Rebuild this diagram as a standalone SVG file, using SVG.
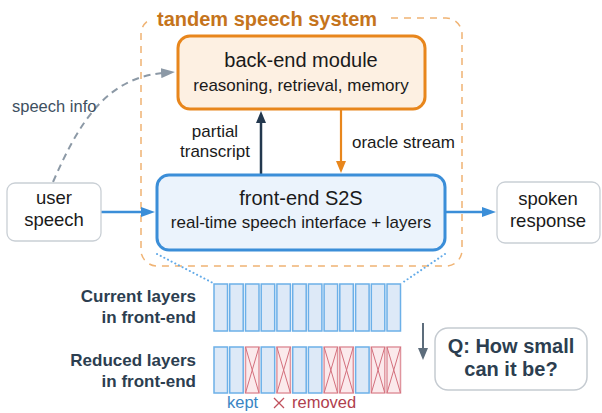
<svg xmlns="http://www.w3.org/2000/svg" width="602" height="413" viewBox="0 0 602 413">
<style>
text{font-family:"Liberation Sans",Arial,sans-serif;}
.t20{font-size:20px;fill:#1a1a1a;text-anchor:middle;}
.t17{font-size:17px;fill:#1a1a1a;text-anchor:middle;}
.t18{font-size:18.5px;fill:#1a1a1a;text-anchor:middle;}
.lbl{font-size:17px;fill:#1a1a1a;}
.bold{font-weight:bold;fill:#2c3e50;}
.term{fill:#ffffff;stroke:#c9cfd5;stroke-width:1.3;}
.kept{fill:#dde9f7;stroke:#6cb0e8;stroke-width:1.5;}
.rem{fill:#fbeaec;stroke:#e0959e;stroke-width:1.5;}
.x{stroke:#d4707d;stroke-width:1;}
</style>
<defs>
<marker id="mb" viewBox="0 0 14 10" refX="2" refY="5" markerWidth="14" markerHeight="10" markerUnits="userSpaceOnUse" orient="auto"><path d="M0,0 L14,5 L0,10 z" fill="#3b8ed8"/></marker>
<marker id="mn" viewBox="0 0 12 10" refX="2" refY="5" markerWidth="12" markerHeight="10" markerUnits="userSpaceOnUse" orient="auto"><path d="M0,0 L12,5 L0,10 z" fill="#23384e"/></marker>
<marker id="mo" viewBox="0 0 12 10" refX="2" refY="5" markerWidth="12" markerHeight="10" markerUnits="userSpaceOnUse" orient="auto"><path d="M0,0 L12,5 L0,10 z" fill="#e8861c"/></marker>
<marker id="mg" viewBox="0 0 14 10" refX="2" refY="5" markerWidth="14" markerHeight="10" markerUnits="userSpaceOnUse" orient="auto"><path d="M0,0 L14,5 L0,10 z" fill="#8c99a6"/></marker>
<marker id="ms" viewBox="0 0 12 10" refX="2" refY="5" markerWidth="12" markerHeight="10" markerUnits="userSpaceOnUse" orient="auto"><path d="M0,0 L12,5 L0,10 z" fill="#5d6d7c"/></marker>
</defs>

<g id="container">
<rect x="141" y="18" width="321" height="248" rx="16" fill="none" stroke="#f0b373" stroke-width="1.5" stroke-dasharray="7 6"/>
<rect x="151" y="6" width="235" height="24" fill="#ffffff"/>
<text x="157" y="26" style="font-size:20px;font-weight:bold;fill:#c5741c;">tandem speech system</text>
</g>

<g id="connectors">
<path d="M53,182 C 78,125 105,78 163,73" fill="none" stroke="#8c99a6" stroke-width="2" stroke-dasharray="7 5" marker-end="url(#mg)"/>
<line x1="101" y1="212" x2="143" y2="212" stroke="#3b8ed8" stroke-width="2.5" marker-end="url(#mb)"/>
<line x1="446" y1="212" x2="484" y2="212" stroke="#3b8ed8" stroke-width="2.5" marker-end="url(#mb)"/>
<line x1="261" y1="174" x2="261" y2="121" stroke="#23384e" stroke-width="2.5" marker-end="url(#mn)"/>
<line x1="341" y1="110" x2="341" y2="163" stroke="#e8861c" stroke-width="2.2" marker-end="url(#mo)"/>
<line x1="157" y1="254" x2="213" y2="283" stroke="#62aae8" stroke-width="2" stroke-dasharray="0.1 4" stroke-linecap="round"/>
<line x1="445" y1="254" x2="402" y2="283" stroke="#62aae8" stroke-width="2" stroke-dasharray="0.1 4" stroke-linecap="round"/>
<line x1="423" y1="323" x2="423" y2="350" stroke="#5d6d7c" stroke-width="2" marker-end="url(#ms)"/>
</g>

<g id="labels">
<text x="12" y="112" style="font-size:16.5px;fill:#3e5061;">speech info</text>
<text x="215" y="137" class="t17">partial</text>
<text x="215" y="157" class="t17">transcript</text>
<text x="352" y="148" class="lbl">oracle stream</text>
</g>

<g id="backend">
<rect x="178" y="36" width="247" height="73" rx="12" fill="#fdf0e2" stroke="#e8861c" stroke-width="3"/>
<text x="301" y="67" class="t20">back-end module</text>
<text x="301" y="91" class="t17">reasoning, retrieval, memory</text>
</g>

<g id="frontend">
<rect x="157" y="175" width="288" height="75" rx="12" fill="#ebf3fc" stroke="#3b8ed8" stroke-width="3"/>
<text x="301" y="205" class="t20">front-end S2S</text>
<text x="301" y="228" class="t17">real-time speech interface + layers</text>
</g>

<g id="user">
<rect x="7" y="183" width="94" height="58" rx="8" class="term"/>
<text x="54" y="204" class="t18">user</text>
<text x="54" y="226" class="t18">speech</text>
</g>

<g id="spoken">
<rect x="497" y="182" width="103" height="61" rx="8" class="term"/>
<text x="548" y="205" class="t18">spoken</text>
<text x="548" y="227" class="t18">response</text>
</g>

<g id="current-layers">
<text x="196" y="302" class="lbl bold" text-anchor="end">Current layers</text>
<text x="196" y="323" class="lbl bold" text-anchor="end">in front-end</text>
<rect x="214" y="284" width="13.5" height="47" class="kept"/>
<rect x="229.7" y="284" width="13.5" height="47" class="kept"/>
<rect x="245.5" y="284" width="13.5" height="47" class="kept"/>
<rect x="261.2" y="284" width="13.5" height="47" class="kept"/>
<rect x="276.9" y="284" width="13.5" height="47" class="kept"/>
<rect x="292.7" y="284" width="13.5" height="47" class="kept"/>
<rect x="308.4" y="284" width="13.5" height="47" class="kept"/>
<rect x="324.1" y="284" width="13.5" height="47" class="kept"/>
<rect x="339.8" y="284" width="13.5" height="47" class="kept"/>
<rect x="355.6" y="284" width="13.5" height="47" class="kept"/>
<rect x="371.3" y="284" width="13.5" height="47" class="kept"/>
<rect x="387" y="284" width="13.5" height="47" class="kept"/>
</g>

<g id="reduced-layers">
<text x="196" y="366" class="lbl bold" text-anchor="end">Reduced layers</text>
<text x="196" y="387" class="lbl bold" text-anchor="end">in front-end</text>
<rect x="214" y="347" width="13.5" height="46" class="kept"/>
<rect x="229.7" y="347" width="13.5" height="46" class="kept"/>
<rect x="245.5" y="347" width="13.5" height="46" class="rem"/>
<path d="M245.5,347 L259,393 M259,347 L245.5,393" class="x"/>
<rect x="261.2" y="347" width="13.5" height="46" class="kept"/>
<rect x="276.9" y="347" width="13.5" height="46" class="rem"/>
<path d="M276.9,347 L290.4,393 M290.4,347 L276.9,393" class="x"/>
<rect x="292.7" y="347" width="13.5" height="46" class="kept"/>
<rect x="308.4" y="347" width="13.5" height="46" class="kept"/>
<rect x="324.1" y="347" width="13.5" height="46" class="rem"/>
<path d="M324.1,347 L337.6,393 M337.6,347 L324.1,393" class="x"/>
<rect x="339.8" y="347" width="13.5" height="46" class="rem"/>
<path d="M339.8,347 L353.3,393 M353.3,347 L339.8,393" class="x"/>
<rect x="355.6" y="347" width="13.5" height="46" class="kept"/>
<rect x="371.3" y="347" width="13.5" height="46" class="rem"/>
<path d="M371.3,347 L384.8,393 M384.8,347 L371.3,393" class="x"/>
<rect x="387" y="347" width="13.5" height="46" class="rem"/>
<path d="M387,347 L400.5,393 M400.5,347 L387,393" class="x"/>
</g>

<g id="legend">
<text x="227" y="408" style="font-size:16.5px;fill:#3a85c4;">kept</text>
<path d="M274,398 L284,408 M284,398 L274,408" stroke="#c0505c" stroke-width="1.3"/>
<text x="292" y="408" style="font-size:16.5px;fill:#b0404e;">removed</text>
</g>

<g id="question">
<rect x="435" y="328" width="152" height="62" rx="13" fill="#ffffff" stroke="#c5cbd1" stroke-width="1.5"/>
<text x="511" y="353" class="t20 bold" style="fill:#2c3e50;">Q: How small</text>
<text x="511" y="376" class="t20 bold" style="fill:#2c3e50;">can it be?</text>
</g>
</svg>
